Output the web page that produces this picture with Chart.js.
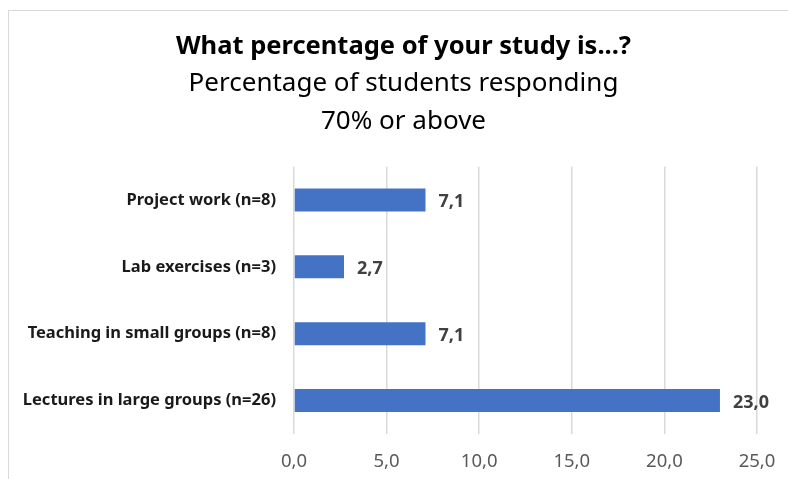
<!DOCTYPE html>
<html>
<head>
<meta charset="utf-8">
<script src="https://cdn.jsdelivr.net/npm/chart.js@4"></script>
<style>
  html, body { margin: 0; padding: 0; background: #fff; }
  .frame {
    position: absolute; left: 8px; top: 10px; width: 780px; height: 469px;
    border-left: 1.5px solid #d9d9d9; border-top: 1.5px solid #d9d9d9;
    box-sizing: border-box;
  }
  .wrap { position: absolute; left: 0; top: 0; width: 788px; height: 479px; }
</style>
</head>
<body>
<div class="frame"></div>
<div class="wrap"><canvas id="studyChart" width="788" height="479"></canvas></div>
<script>
  // sample values
  const categories = [
    "Project work (n=8)",
    "Lab exercises (n=3)",
    "Teaching in small groups (n=8)",
    "Lectures in large groups (n=26)"
  ];
  const percentages = [7.1, 2.7, 7.1, 23.0];
  const xTicks = [0, 5, 10, 15, 20, 25];

  const FONT = "'Noto Sans', 'Open Sans', sans-serif";
  const fmt = (v) => Number(v).toFixed(1).replace(".", ",");

  // draws the value next to each bar end
  const barValues = {
    id: "barValues",
    afterDatasetsDraw(chart) {
      const c = chart.ctx;
      const meta = chart.getDatasetMeta(0);
      c.save();
      c.font = "bold 18px " + FONT;
      c.fillStyle = "#404040";
      c.textAlign = "left";
      c.textBaseline = "middle";
      meta.data.forEach((bar, i) => {
        c.fillText(fmt(percentages[i]), bar.x + 13, bar.y + 2);
      });
      c.restore();
    }
  };

  // the titles sit centred over the framed box, not over the padded canvas
  const shiftTitles = {
    id: "shiftTitles",
    afterLayout(chart) {
      chart.boxes.forEach((b) => {
        if (b.position === "top" && b.options && b.options.text) {
          b.left += 21;
          b.right += 21;
        }
      });
    }
  };

  new Chart(document.getElementById("studyChart"), {
    type: "bar",
    data: {
      labels: categories,
      datasets: [{
        data: percentages,
        backgroundColor: "#4472c4",
        categoryPercentage: 0.69,
        barPercentage: 0.5
      }]
    },
    plugins: [barValues, shiftTitles],
    options: {
      indexAxis: "y",
      responsive: false,
      animation: false,
      devicePixelRatio: 1,
      layout: { padding: { left: 8, right: 31, top: 0, bottom: 6 } },
      plugins: {
        legend: { display: false },
        tooltip: { enabled: false },
        title: {
          display: true,
          text: "What percentage of your study is...?",
          color: "#000",
          font: { family: FONT, size: 25.5, weight: "bold", lineHeight: 1.2 },
          padding: { top: 31, bottom: 2 }
        },
        subtitle: {
          display: true,
          text: ["Percentage of students responding", "70% or above"],
          color: "#000",
          font: { family: FONT, size: 26, weight: "normal", lineHeight: 1.46 },
          padding: { top: 1, bottom: 26 }
        }
      },
      scales: {
        x: {
          min: 0,
          max: 25,
          afterBuildTicks: (axis) => { axis.ticks = xTicks.map((v) => ({ value: v })); },
          afterFit: (axis) => {
            axis.height = 39;
            axis.paddingLeft = 0;
            axis.paddingRight = 0;
          },
          grid: { color: "#d9d9d9", lineWidth: 1.5, tickLength: 0, drawTicks: false },
          border: { display: false },
          ticks: {
            color: "#595959",
            padding: 17,
            font: { family: FONT, size: 18.5 },
            callback: (v) => fmt(v)
          }
        },
        y: {
          afterFit: (axis) => { axis.width = 286; },
          grid: { display: false },
          border: { display: false },
          ticks: {
            color: "#1a1a1a",
            padding: 10,
            font: { family: FONT, size: 16.5, weight: "bold" }
          }
        }
      }
    }
  });
</script>
</body>
</html>
